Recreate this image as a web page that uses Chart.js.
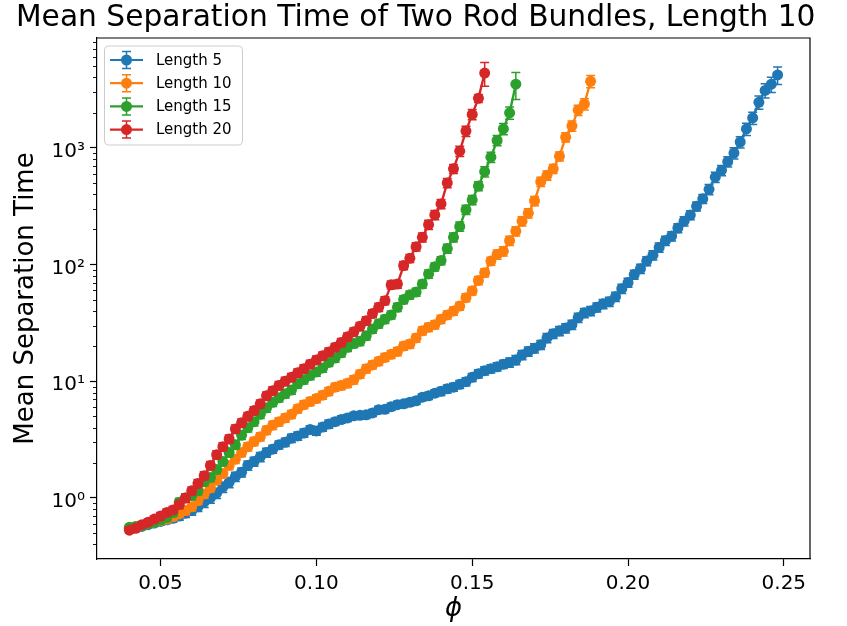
<!DOCTYPE html>
<html>
<head>
<meta charset="utf-8">
<script src="https://cdn.jsdelivr.net/npm/chart.js@4/dist/chart.umd.min.js"></script>
<style>
  html, body { margin: 0; padding: 0; background: #fff; }
</style>
</head>
<body>
<canvas id="chart" width="847" height="626"></canvas>
<script>
'use strict';

// phi grid shared by all series (each series uses the first N entries)
const phi = [
    0.040, 0.042, 0.044, 0.046, 0.048, 0.050, 0.052, 0.054, 0.056, 0.058,
    0.060, 0.062, 0.064, 0.066, 0.068, 0.070, 0.072, 0.074, 0.076, 0.078,
    0.080, 0.082, 0.084, 0.086, 0.088, 0.090, 0.092, 0.094, 0.096, 0.098,
    0.100, 0.102, 0.104, 0.106, 0.108, 0.110, 0.112, 0.114, 0.116, 0.118,
    0.120, 0.122, 0.124, 0.126, 0.128, 0.130, 0.132, 0.134, 0.136, 0.138,
    0.140, 0.142, 0.144, 0.146, 0.148, 0.150, 0.152, 0.154, 0.156, 0.158,
    0.160, 0.162, 0.164, 0.166, 0.168, 0.170, 0.172, 0.174, 0.176, 0.178,
    0.180, 0.182, 0.184, 0.186, 0.188, 0.190, 0.192, 0.194, 0.196, 0.198,
    0.200, 0.202, 0.204, 0.206, 0.208, 0.210, 0.212, 0.214, 0.216, 0.218,
    0.220, 0.222, 0.224, 0.226, 0.228, 0.230, 0.232, 0.234, 0.236, 0.238,
    0.240, 0.242, 0.244, 0.246, 0.248
];

// mean separation time
const length5 = [
    0.55, 0.56, 0.57, 0.59, 0.61, 0.63, 0.65, 0.67, 0.70, 0.74,
    0.78, 0.84, 0.92, 1.00, 1.10, 1.24, 1.36, 1.52, 1.66, 1.90,
    2.05, 2.25, 2.45, 2.62, 2.85, 3.00, 3.25, 3.40, 3.60, 3.85,
    3.75, 4.05, 4.30, 4.50, 4.70, 4.85, 5.05, 5.10, 5.15, 5.35,
    5.70, 5.75, 6.05, 6.30, 6.40, 6.60, 6.80, 7.30, 7.50, 7.90,
    8.20, 8.60, 8.90, 9.40, 9.90, 10.8, 11.6, 12.3, 12.8, 13.3,
    14.0, 14.5, 15.2, 16.8, 18.0, 19.2, 20.5, 23.5, 25.5, 27.0,
    28.5, 30.5, 35.0, 38.5, 40.0, 43.0, 46.0, 48.0, 53.0, 62.0,
    70, 82, 92, 107, 120, 140, 160, 175, 205, 235,
    265, 315, 365, 440, 560, 640, 760, 900, 1120, 1450,
    1800, 2450, 3100, 3500, 4200
];
const length10 = [
    0.55, 0.56, 0.58, 0.60, 0.62, 0.64, 0.66, 0.69, 0.73, 0.78,
    0.84, 0.95, 1.08, 1.22, 1.42, 1.62, 1.90, 2.15, 2.45, 2.75,
    3.05, 3.35, 3.80, 4.20, 4.50, 4.85, 5.20, 5.80, 6.30, 6.70,
    7.10, 7.60, 8.20, 8.90, 9.20, 9.60, 10.3, 11.5, 12.8, 13.8,
    14.8, 16.0, 17.0, 18.0, 20.0, 20.8, 23.5, 27.0, 29.0, 30.5,
    34.0, 37.0, 40.0, 44.0, 52.0, 59.5, 73, 85, 107, 122,
    130, 160, 193, 235, 275, 350, 512, 580, 660, 845,
    1230, 1540, 2100, 2370, 3710
];
const length15 = [
    0.56, 0.57, 0.58, 0.60, 0.62, 0.65, 0.68, 0.75, 0.92, 1.00,
    1.05, 1.15, 1.38, 1.50, 1.75, 2.05, 2.45, 2.85, 3.45, 4.00,
    4.50, 5.20, 5.90, 6.60, 7.20, 7.80, 8.40, 9.50, 10.3, 11.2,
    12.0, 13.0, 14.5, 15.8, 17.5, 19.5, 21.0, 22.0, 24.5, 28.0,
    31.0, 34.0, 37.0, 43.0, 50.0, 55.0, 58.0, 68.0, 83.0, 95.5,
    108, 137, 171, 212, 295, 357, 470, 625, 830, 1155,
    1450, 1990, 3500
];
const length20 = [
    0.53, 0.55, 0.59, 0.62, 0.66, 0.70, 0.75, 0.79, 0.88, 1.00,
    1.15, 1.33, 1.55, 1.90, 2.35, 2.75, 3.20, 3.90, 4.40, 5.00,
    5.60, 6.40, 7.50, 8.30, 9.20, 10.0, 10.8, 11.8, 12.8, 14.0,
    15.2, 16.5, 17.8, 19.5, 21.5, 24.0, 26.5, 29.5, 33.0, 38.0,
    43.0, 49.0, 67.0, 68.0, 98.0, 113, 142, 171, 219, 266,
    330, 500, 660, 935, 1390, 1930, 2650, 4360
];

// error bars, percent of the mean
const err5 = [
    6, 6, 6, 6, 6, 7, 7, 7, 8, 8, 9, 9, 10, 10, 10, 10, 10, 9, 9, 9,
    9, 9, 9, 8, 8, 8, 8, 8, 8, 8, 8, 8, 8, 7, 7, 7, 7, 7, 7, 7,
    7, 7, 7, 7, 7, 7, 7, 7, 7, 7, 8, 8, 8, 8, 8, 8, 8, 8, 8, 8,
    8, 9, 9, 9, 9, 9, 9, 9, 9, 9, 9, 9, 9, 9, 9, 9, 9, 9, 9, 9,
    9, 9, 9, 9, 9, 9, 9, 9, 9, 9, 9, 9, 9, 10, 10, 10, 10, 11, 11, 12,
    12, 13, 14, 15, 17
];
const err10 = [
    6, 6, 6, 6, 6, 7, 7, 7, 7, 8, 8, 8, 8, 8, 8, 8, 8, 8, 8, 8,
    8, 8, 8, 8, 8, 8, 8, 8, 8, 8, 8, 8, 8, 8, 8, 8, 8, 8, 8, 8,
    8, 8, 8, 8, 8, 8, 8, 8, 8, 8, 8, 8, 8, 8, 8, 8, 8, 8, 8, 9,
    9, 9, 9, 9, 9, 9, 9, 9, 9, 9, 9, 10, 10, 11, 12
];
const err15 = [
    6, 6, 6, 6, 6, 7, 7, 8, 8, 8, 8, 8, 8, 8, 8, 8, 8, 8, 8, 8,
    8, 8, 8, 8, 8, 8, 8, 8, 8, 8, 8, 8, 8, 8, 8, 8, 8, 8, 8, 8,
    8, 8, 8, 8, 8, 8, 8, 8, 8, 8, 8, 9, 9, 9, 9, 9, 9, 10, 10, 10,
    11, 12, 26
];
const err20 = [
    6, 6, 6, 6, 6, 7, 7, 7, 8, 8, 8, 8, 8, 8, 8, 8, 8, 8, 8, 8,
    8, 8, 8, 8, 8, 8, 8, 8, 8, 8, 8, 8, 8, 8, 8, 8, 8, 8, 8, 8,
    8, 8, 8, 8, 8, 8, 8, 9, 9, 9, 9, 9, 9, 10, 10, 10, 8, 23
];

const seriesLabels = ['Length 5', 'Length 10', 'Length 15', 'Length 20'];
const xTicks = [0.05, 0.10, 0.15, 0.20, 0.25];
const yTicks = [1, 10, 100, 1000];
const yTickLabels = ['10⁰', '10¹', '10²', '10³'];
const yMinorTicks = [
    0.4, 0.5, 0.6, 0.7, 0.8, 0.9,
    2, 3, 4, 5, 6, 7, 8, 9,
    20, 30, 40, 50, 60, 70, 80, 90,
    200, 300, 400, 500, 600, 700, 800, 900,
    2000, 3000, 4000, 5000, 6000, 7000, 8000
];

const colors = ['#1f77b4', '#ff7f0e', '#2ca02c', '#d62728'];
const FONT = '"DejaVu Sans", sans-serif';

const series = [
    { values: length5, err: err5 },
    { values: length10, err: err10 },
    { values: length15, err: err15 },
    { values: length20, err: err20 }
];

// error bars drawn right after each dataset so later series sit on top
const errorBars = {
    id: 'errorBars',
    afterDatasetDraw(chart, args) {
        const s = series[args.index];
        const yScale = chart.scales.y;
        const ctx = chart.ctx;
        ctx.save();
        ctx.strokeStyle = colors[args.index];
        ctx.lineWidth = 1.5;
        args.meta.data.forEach((pt, i) => {
            const v = s.values[i], e = v * s.err[i] / 100;
            const y1 = yScale.getPixelForValue(v + e);
            const y2 = yScale.getPixelForValue(v - e);
            ctx.beginPath();
            ctx.moveTo(pt.x, y1); ctx.lineTo(pt.x, y2);
            ctx.moveTo(pt.x - 4.5, y1); ctx.lineTo(pt.x + 4.5, y1);
            ctx.moveTo(pt.x - 4.5, y2); ctx.lineTo(pt.x + 4.5, y2);
            ctx.stroke();
        });
        ctx.restore();
    }
};

// frame, minor ticks, title, legend
const decorations = {
    id: 'decorations',
    afterDraw(chart) {
        const ctx = chart.ctx;
        const a = chart.chartArea;
        const yScale = chart.scales.y;
        ctx.save();
        ctx.strokeStyle = '#000';
        ctx.lineWidth = 1.2;
        ctx.beginPath();
        ctx.moveTo(a.left, a.top); ctx.lineTo(a.right, a.top); ctx.lineTo(a.right, a.bottom);
        ctx.stroke();

        ctx.lineWidth = 0.9;
        ctx.beginPath();
        yMinorTicks.forEach(v => {
            const py = Math.round(yScale.getPixelForValue(v)) + 0.5;
            ctx.moveTo(a.left - 4, py); ctx.lineTo(a.left, py);
        });
        ctx.stroke();

        // title
        ctx.fillStyle = '#000';
        ctx.font = '29.7px ' + FONT;
        ctx.textAlign = 'left';
        ctx.textBaseline = 'middle';
        ctx.fillText('Mean Separation Time of Two Rod Bundles, Length 10', 16, 18);

        // legend
        const lx = 104.5, ly = 46, lw = 138, lh = 99;
        ctx.beginPath();
        ctx.roundRect(lx, ly, lw, lh, 4);
        ctx.fillStyle = 'rgba(255,255,255,0.8)';
        ctx.fill();
        ctx.strokeStyle = '#cccccc';
        ctx.lineWidth = 1;
        ctx.stroke();
        ctx.font = '15px ' + FONT;
        seriesLabels.forEach((label, i) => {
            const cy = 60 + i * 23.2;
            ctx.strokeStyle = colors[i];
            ctx.fillStyle = colors[i];
            ctx.lineWidth = 2.2;
            ctx.beginPath();
            ctx.moveTo(110, cy); ctx.lineTo(143, cy);
            ctx.stroke();
            ctx.lineWidth = 1.5;
            ctx.beginPath();
            ctx.moveTo(126.5, cy - 8.5); ctx.lineTo(126.5, cy + 8.5);
            ctx.moveTo(122, cy - 8.5); ctx.lineTo(131, cy - 8.5);
            ctx.moveTo(122, cy + 8.5); ctx.lineTo(131, cy + 8.5);
            ctx.stroke();
            ctx.beginPath();
            ctx.arc(126.5, cy, 5.5, 0, Math.PI * 2);
            ctx.fill();
            ctx.fillStyle = '#000';
            ctx.fillText(label, 156, cy + 1);
        });
        ctx.restore();
    }
};

new Chart(document.getElementById('chart'), {
    type: 'line',
    data: {
        datasets: series.map((s, i) => ({
            label: seriesLabels[i],
            data: s.values.map((v, j) => ({ x: phi[j], y: v })),
            borderColor: colors[i],
            backgroundColor: colors[i],
            pointBackgroundColor: colors[i],
            pointBorderWidth: 0,
            pointRadius: 5.5,
            borderWidth: 2.4,
            tension: 0,
            order: 4 - i
        }))
    },
    options: {
        responsive: false,
        animation: false,
        layout: { padding: { top: 38, right: 37, left: 0, bottom: 0 } },
        plugins: {
            legend: { display: false },
            title: { display: false },
            tooltip: { enabled: false }
        },
        scales: {
            x: {
                type: 'linear',
                min: 0.0296,
                max: 0.2584,
                afterBuildTicks: scale => { scale.ticks = xTicks.map(v => ({ value: v })); },
                afterFit: scale => { scale.height = 67; },
                ticks: {
                    callback: v => v.toFixed(2),
                    font: { family: FONT, size: 20 },
                    color: '#000',
                    padding: 6,
                    autoSkip: false,
                    maxRotation: 0
                },
                grid: { drawOnChartArea: false, drawTicks: true, tickLength: 7, tickColor: '#000', tickWidth: 1.2 },
                border: { display: true, color: '#000', width: 1.2 },
                title: {
                    display: true,
                    text: 'ϕ',
                    color: '#000',
                    font: { family: FONT, size: 26, style: 'italic' },
                    padding: { top: 0, bottom: 1 }
                }
            },
            y: {
                type: 'logarithmic',
                min: 0.334,
                max: 8710,
                afterBuildTicks: scale => { scale.ticks = yTicks.map(v => ({ value: v, major: true })); },
                afterFit: scale => { scale.width = 97; },
                ticks: {
                    callback: v => yTickLabels[yTicks.indexOf(v)],
                    font: { family: FONT, size: 20 },
                    color: '#000',
                    padding: 5,
                    labelOffset: 4,
                    autoSkip: false
                },
                grid: { drawOnChartArea: false, drawTicks: true, tickLength: 7, tickColor: '#000', tickWidth: 1.2 },
                border: { display: true, color: '#000', width: 1.2 },
                title: {
                    display: true,
                    text: 'Mean Separation Time',
                    color: '#000',
                    font: { family: FONT, size: 26 },
                    padding: { top: 11, bottom: 0 }
                }
            }
        }
    },
    plugins: [errorBars, decorations]
});
</script>
</body>
</html>
